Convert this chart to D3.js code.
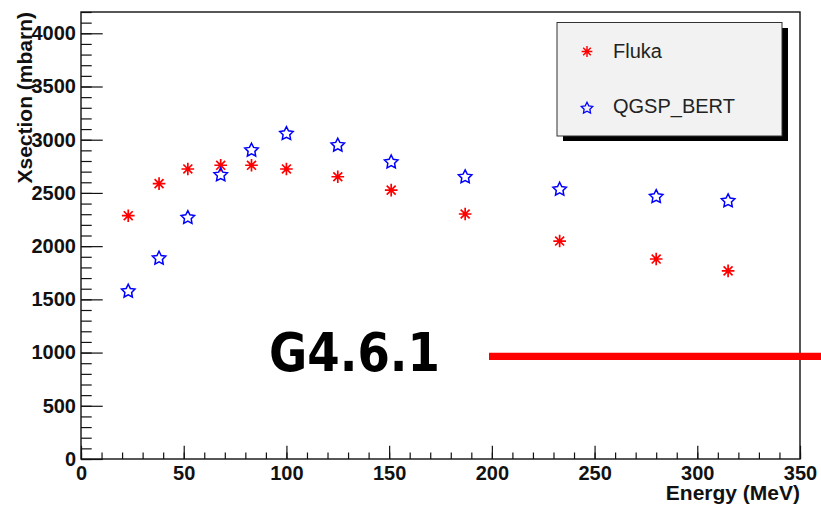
<!DOCTYPE html>
<html>
<head>
<meta charset="utf-8">
<script src="https://cdn.jsdelivr.net/npm/d3@7"></script>
<style>
  body { margin: 0; background: #fff; }
  text { font-family: "Liberation Sans", Arial, sans-serif; }
</style>
</head>
<body>
<div id="my_dataviz"></div>
<script>
// values
var energy = [23, 38, 52, 68, 83, 100, 125, 151, 187, 233, 280, 315];
var fluka  = [2286, 2587, 2725, 2760, 2760, 2725, 2652, 2527, 2302, 2048, 1879, 1767];
var qgsp   = [1585, 1895, 2277, 2678, 2910, 3066, 2957, 2799, 2659, 2543, 2474, 2434];

var seriesNames = ["Fluka", "QGSP_BERT"];
var xMajor = [0, 50, 100, 150, 200, 250, 300, 350];
var yMajor = [0, 500, 1000, 1500, 2000, 2500, 3000, 3500, 4000];

var width = 821, height = 507;
var plotLeft = 81, plotRight = 800, plotTop = 12, plotBottom = 459;

var svg = d3.select("#my_dataviz")
  .append("svg")
  .attr("width", width)
  .attr("height", height);

var x = d3.scaleLinear().domain([0, 350]).range([plotLeft, plotRight]);
var y = d3.scaleLinear().domain([0, 4200]).range([plotBottom, plotTop]);

// custom marker shapes (ROOT style asterisk and open star)
var asterisk = {
  draw: function(ctx, size) {
    var r = Math.sqrt(size) / 2;
    for (var i = 0; i < 4; i++) {
      var a = i * Math.PI / 4;
      ctx.moveTo(-r * Math.cos(a), -r * Math.sin(a));
      ctx.lineTo(r * Math.cos(a), r * Math.sin(a));
    }
  }
};
var openStar = {
  draw: function(ctx, size) {
    var R = Math.sqrt(size) / 2, rIn = R * 0.5;
    for (var i = 0; i < 10; i++) {
      var rr = i % 2 ? rIn : R;
      var a = -Math.PI / 2 + i * Math.PI / 5;
      if (i == 0) ctx.moveTo(rr * Math.cos(a), rr * Math.sin(a));
      else ctx.lineTo(rr * Math.cos(a), rr * Math.sin(a));
    }
    ctx.closePath();
  }
};
var asteriskPath = d3.symbol().type(asterisk).size(160)();
var starPath = d3.symbol().type(openStar).size(200)();

function styleTicks(g) {
  g.select(".domain").remove();
  g.selectAll("line").attr("stroke", "#111").attr("stroke-width", 1.2);
  g.selectAll("text")
    .attr("fill", "#111")
    .style("font-size", "20px")
    .style("font-weight", "bold")
    .style("font-family", "Liberation Sans, Arial, sans-serif");
}

// minor ticks
svg.append("g")
  .attr("transform", "translate(0," + plotBottom + ")")
  .call(d3.axisBottom(x).tickValues(d3.range(0, 351, 10)).tickSize(-6.5).tickSizeOuter(0).tickFormat(""))
  .call(styleTicks);

svg.append("g")
  .attr("transform", "translate(" + plotLeft + ",0)")
  .call(d3.axisLeft(y).tickValues(d3.range(0, 4201, 100)).tickSize(-10.7).tickSizeOuter(0).tickFormat(""))
  .call(styleTicks);

// major ticks + labels
svg.append("g")
  .attr("transform", "translate(0," + plotBottom + ")")
  .call(d3.axisBottom(x).tickValues(xMajor).tickSize(-13.3).tickSizeOuter(0).tickPadding(7).tickFormat(d3.format("d")))
  .call(styleTicks);

svg.append("g")
  .attr("transform", "translate(" + plotLeft + ",0)")
  .call(d3.axisLeft(y).tickValues(yMajor).tickSize(-21.7).tickSizeOuter(0).tickPadding(5).tickFormat(d3.format("d")))
  .call(styleTicks);

// frame
svg.append("rect")
  .attr("x", plotLeft).attr("y", plotTop)
  .attr("width", plotRight - plotLeft).attr("height", plotBottom - plotTop)
  .attr("fill", "none").attr("stroke", "#111").attr("stroke-width", 1.4);

// axis titles
svg.append("text")
  .attr("transform", "translate(32," + plotTop + ") rotate(-90)")
  .attr("text-anchor", "end")
  .style("font-size", "21px")
  .style("font-weight", "bold")
  .attr("fill", "#111")
  .text("Xsection (mbarn)");

svg.append("text")
  .attr("x", plotRight)
  .attr("y", 500)
  .attr("text-anchor", "end")
  .style("font-size", "21px")
  .style("font-weight", "bold")
  .attr("fill", "#111")
  .text("Energy (MeV)");

// data points
var pts = energy.map(function(e, i) { return {e: e, f: fluka[i], q: qgsp[i]}; });

function drawAsterisk(sel) {
  sel.append("path").attr("d", asteriskPath)
    .attr("stroke", "#ff0000").attr("stroke-width", 1.7).attr("fill", "none");
  sel.append("circle").attr("r", 2.1).attr("fill", "#ff0000");
}

svg.selectAll(".fluka")
  .data(pts)
  .enter().append("g")
  .attr("class", "fluka")
  .attr("transform", function(d) { return "translate(" + x(d.e) + "," + y(d.f) + ")"; })
  .call(drawAsterisk);

svg.selectAll(".qgsp")
  .data(pts)
  .enter().append("path")
  .attr("class", "qgsp")
  .attr("d", starPath)
  .attr("transform", function(d) { return "translate(" + x(d.e) + "," + (y(d.q) + 1) + ")"; })
  .attr("fill", "none")
  .attr("stroke", "#0000ff")
  .attr("stroke-width", 1.5);

// legend
var legend = svg.append("g");
legend.append("rect")
  .attr("x", 563).attr("y", 28)
  .attr("width", 225).attr("height", 113)
  .attr("fill", "#000");
legend.append("rect")
  .attr("x", 557).attr("y", 22.5)
  .attr("width", 225).attr("height", 113.5)
  .attr("fill", "#f2f2f2")
  .attr("stroke", "#333").attr("stroke-width", 1);

var legendY = [51.5, 107.3];
legend.append("g")
  .attr("transform", "translate(587," + legendY[0] + ") scale(0.85)")
  .call(drawAsterisk);
legend.append("path")
  .attr("d", starPath)
  .attr("transform", "translate(587," + (legendY[1] + 1) + ") scale(0.85)")
  .attr("fill", "none").attr("stroke", "#0000ff").attr("stroke-width", 1.5);

legend.selectAll(".lt")
  .data(seriesNames)
  .enter().append("text")
  .attr("class", "lt")
  .attr("x", 613)
  .attr("y", function(d, i) { return legendY[i] + 6; })
  .style("font-size", "20px")
  .attr("fill", "#222")
  .text(function(d) { return d; });

// version stamp and red bar
svg.append("text")
  .attr("x", 269)
  .attr("y", 371)
  .attr("textLength", 171)
  .attr("lengthAdjust", "spacingAndGlyphs")
  .style("font-family", "DejaVu Sans, Verdana, sans-serif")
  .style("font-weight", "bold")
  .style("font-size", "54px")
  .attr("fill", "#000")
  .text("G4.6.1");

svg.append("line")
  .attr("x1", 489).attr("x2", 821)
  .attr("y1", 356.3).attr("y2", 356.3)
  .attr("stroke", "#ff0000")
  .attr("stroke-width", 7.3);
</script>
</body>
</html>
